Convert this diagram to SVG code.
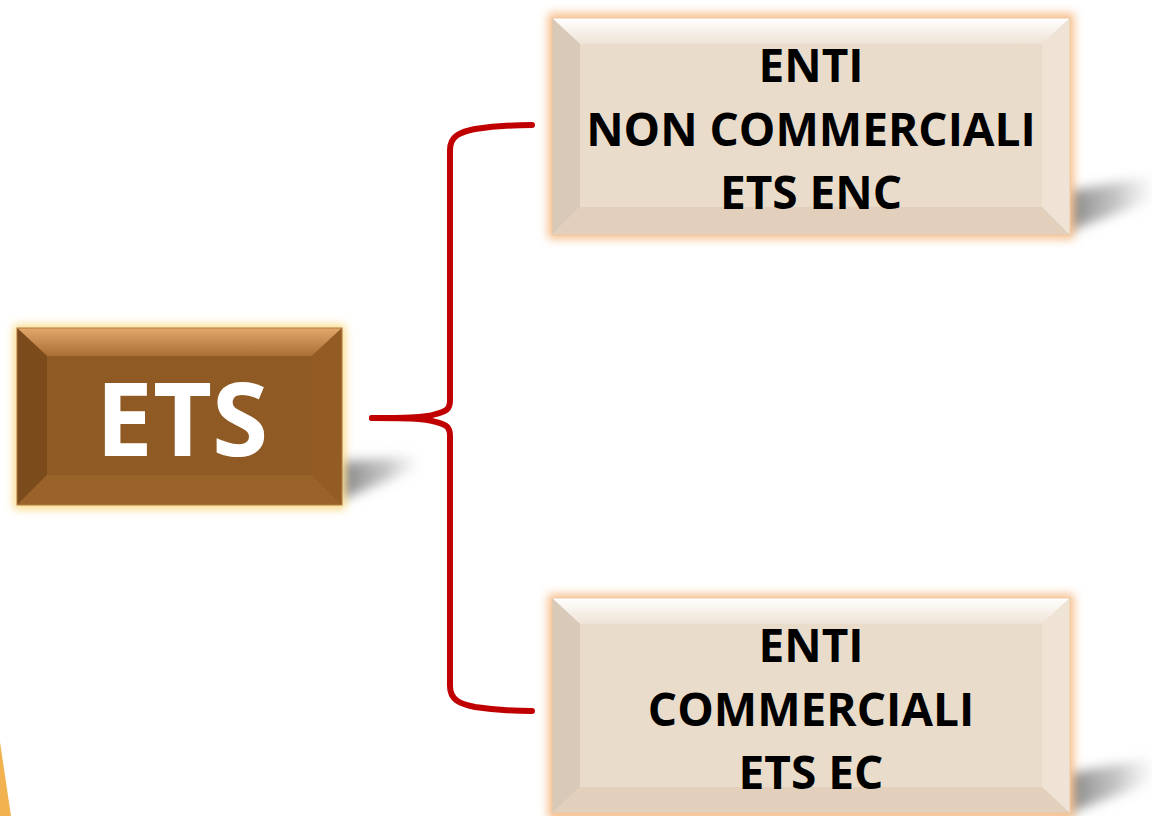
<svg xmlns="http://www.w3.org/2000/svg" width="1152" height="816" viewBox="0 0 1152 816">
<defs>
<style>
.lbl{font-family:"Open Sans","Liberation Sans",sans-serif;font-weight:bold;text-anchor:middle}
.dark{font-size:46px;fill:#000}
.brace{fill:none;stroke:#c00000;stroke-width:6;stroke-linecap:round;stroke-linejoin:round}
</style>
<filter id="glowY" x="-20%" y="-20%" width="140%" height="140%"><feGaussianBlur stdDeviation="5"/></filter>
<filter id="blur" x="-30%" y="-60%" width="160%" height="220%"><feGaussianBlur stdDeviation="6"/></filter>
<linearGradient id="shadowG" x1="0" y1="0" x2="1" y2="0">
<stop offset="0" stop-color="#7a7a7a" stop-opacity="0.95"/>
<stop offset="0.6" stop-color="#a0a0a0" stop-opacity="0.6"/>
<stop offset="1" stop-color="#c8c8c8" stop-opacity="0.1"/>
</linearGradient>
<linearGradient id="etsTop" x1="0" y1="0" x2="0" y2="1">
<stop offset="0" stop-color="#e3a86c"/>
<stop offset="1" stop-color="#a96e34"/>
</linearGradient>
<linearGradient id="begTop" x1="0" y1="0" x2="0" y2="1">
<stop offset="0" stop-color="#ffffff"/>
<stop offset="1" stop-color="#efe3d6"/>
</linearGradient>
</defs>
<rect width="1152" height="816" fill="#ffffff"/>
<polygon points="0,742 11,816 0,816" fill="#f2b24f"/>

<g id="connectors">
<path class="brace" d="M372,418 C400,418 425,418 436,414 C446,411 450,410 450,400 L450,150 C450,136 460,132 475,129 C495,126 515,125 532,125"/>
<path class="brace" d="M372,418 C400,418 425,418 436,422 C446,425 450,426 450,436 L450,686 C450,700 460,704 475,707 C495,710 515,711 532,711"/>
</g>

<g id="node-ets">
<polygon points="340,462 412,456 418,468 340,500" fill="url(#shadowG)" filter="url(#blur)"/>
<rect x="14" y="325" width="331" height="184" fill="#fbd880" filter="url(#glowY)"/>
<rect x="17" y="328" width="325" height="177" fill="#8f5a24"/>
<polygon points="17,328 342,328 312,356 47,356" fill="url(#etsTop)"/>
<polygon points="17,328 47,356 47,475 17,505" fill="#7c4b1c"/>
<polygon points="342,328 342,505 312,475 312,356" fill="#935c25"/>
<polygon points="17,505 47,475 312,475 342,505" fill="#9a6329"/>
<rect x="17" y="328" width="325" height="177" fill="none" stroke="#b07a3e" stroke-width="1"/>
<text class="lbl" x="182" y="456" font-size="102" fill="#ffffff">ETS</text>
</g>

<g id="node-enc">
<polygon points="1066,192 1152,176 1152,200 1066,232" fill="url(#shadowG)" filter="url(#blur)"/>
<rect x="548" y="13" width="526" height="226" fill="#f7bf8c" filter="url(#glowY)"/>
<rect x="552" y="18" width="518" height="217" fill="#eadccb"/>
<polygon points="552,18 1070,18 1042,44 580,44" fill="url(#begTop)"/>
<polygon points="552,18 580,44 580,207 552,235" fill="#d9c9b8"/>
<polygon points="1070,18 1070,235 1042,207 1042,44" fill="#efe3d6"/>
<polygon points="552,235 580,207 1042,207 1070,235" fill="#e2d0bc"/>
<rect x="552" y="18" width="518" height="217" fill="none" stroke="#f0c8a0" stroke-width="1"/>
<text class="lbl dark" x="811" y="82">ENTI</text>
<text class="lbl dark" x="811" y="146">NON COMMERCIALI</text>
<text class="lbl dark" x="811" y="209">ETS ENC</text>
</g>

<g id="node-ec">
<polygon points="1066,774 1152,758 1152,782 1066,814" fill="url(#shadowG)" filter="url(#blur)"/>
<rect x="548" y="594" width="526" height="226" fill="#f7bf8c" filter="url(#glowY)"/>
<rect x="552" y="598" width="518" height="215" fill="#eadccb"/>
<polygon points="552,598 1070,598 1042,624 580,624" fill="url(#begTop)"/>
<polygon points="552,598 580,624 580,787 552,813" fill="#d9c9b8"/>
<polygon points="1070,598 1070,813 1042,787 1042,624" fill="#efe3d6"/>
<polygon points="552,813 580,787 1042,787 1070,813" fill="#e2d0bc"/>
<rect x="552" y="598" width="518" height="215" fill="none" stroke="#f0c8a0" stroke-width="1"/>
<text class="lbl dark" x="811" y="662">ENTI</text>
<text class="lbl dark" x="811" y="726">COMMERCIALI</text>
<text class="lbl dark" x="811" y="789">ETS EC</text>
</g>
</svg>
